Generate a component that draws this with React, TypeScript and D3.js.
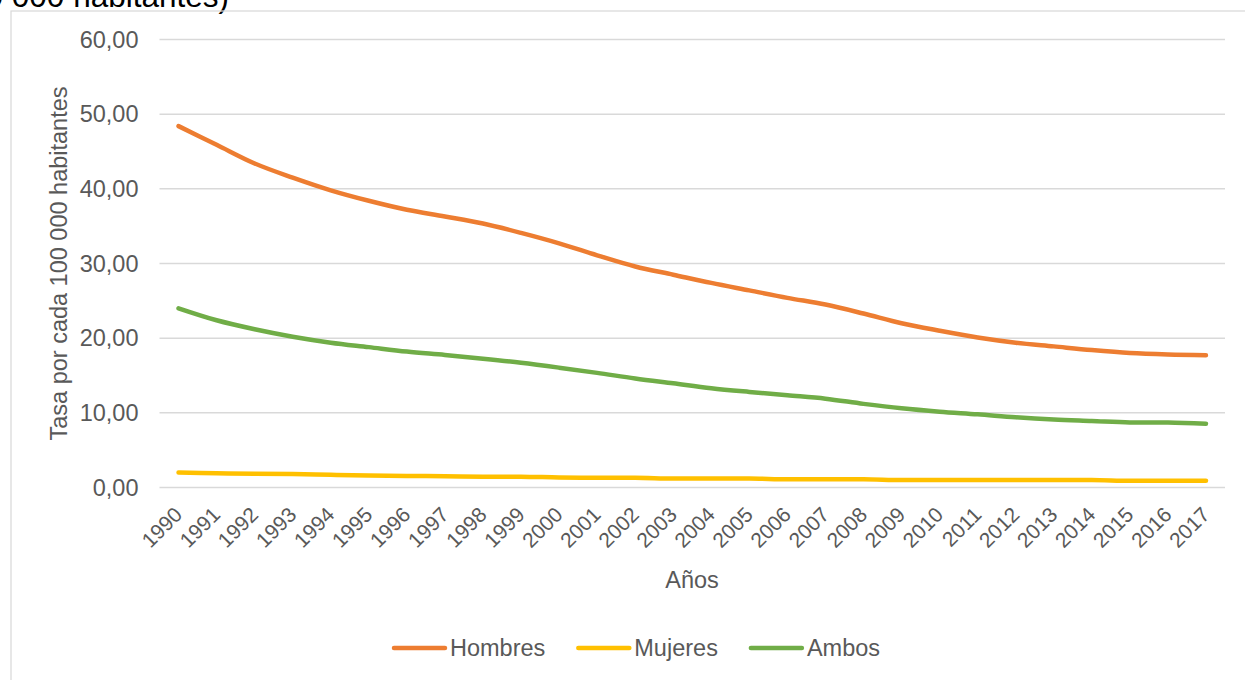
import React from "react";
import * as d3 from "d3";

// Annual rates per 100 000 inhabitants, 1990–2017
const years: string[] = [
  "1990", "1991", "1992", "1993", "1994", "1995", "1996", "1997", "1998", "1999",
  "2000", "2001", "2002", "2003", "2004", "2005", "2006", "2007", "2008", "2009",
  "2010", "2011", "2012", "2013", "2014", "2015", "2016", "2017",
];

const hombres: number[] = [
  48.4, 45.9, 43.4, 41.5, 39.8, 38.4, 37.2, 36.3, 35.35, 34.1,
  32.7, 31.1, 29.6, 28.5, 27.4, 26.4, 25.4, 24.5, 23.3, 22.0,
  21.0, 20.1, 19.4, 18.9, 18.4, 18.0, 17.8, 17.7,
];

const mujeres: number[] = [
  2.0, 1.9, 1.85, 1.8, 1.7, 1.6, 1.55, 1.5, 1.45, 1.45,
  1.35, 1.3, 1.3, 1.2, 1.2, 1.2, 1.1, 1.1, 1.1, 1.0,
  1.0, 1.0, 1.0, 1.0, 1.0, 0.9, 0.9, 0.92,
];

const ambos: number[] = [
  24.0, 22.4, 21.2, 20.2, 19.4, 18.8, 18.2, 17.75, 17.25, 16.7,
  16.05, 15.35, 14.6, 13.95, 13.3, 12.8, 12.35, 11.9, 11.2, 10.6,
  10.15, 9.8, 9.4, 9.1, 8.9, 8.7, 8.7, 8.55,
];

const yTicks: number[] = [0, 10, 20, 30, 40, 50, 60];

const seriesNames: string[] = ["Hombres", "Mujeres", "Ambos"];
const seriesColors: string[] = ["#ED7D31", "#FFC000", "#70AD47"];

const titleText = "(Tasa por cada 100 000 habitantes)";
const yTitle = "Tasa por cada 100 000 habitantes";
const xTitle = "Años";

const W = 1245;
const H = 680;
const FONT = "Arial, 'Liberation Sans', Helvetica, sans-serif";
const GRAY = "#595959";

function measure(text: string, size: number): number {
  const c = document.createElement("canvas").getContext("2d");
  if (!c) return text.length * size * 0.55;
  c.font = `${size}px ${FONT}`;
  return c.measureText(text).width;
}

export default function App() {
  const plot = { left: 159.5, right: 1225, top: 39.5, bottom: 487.5 };

  const x = d3.scaleBand<string>().domain(years).range([plot.left, plot.right]).padding(0);
  const y = d3.scaleLinear().domain([0, 60]).range([plot.bottom, plot.top]);
  const cx = (yr: string) => (x(yr) ?? 0) + x.bandwidth() / 2;

  const fmt = (v: number) => d3.format(".2f")(v).replace(".", ",");

  const line = d3
    .line<number>()
    .x((_, i) => cx(years[i]))
    .y((v) => y(v))
    .curve(d3.curveCatmullRom.alpha(0.5));

  const seriesData = [hombres, mujeres, ambos];

  // legend layout, centred under the chart
  const legendFont = 23.5;
  const swatch = 55;
  const textGap = 3;
  const itemGap = 31;
  const widths = seriesNames.map((n) => swatch + textGap + measure(n, legendFont));
  const total = d3.sum(widths) + itemGap * (seriesNames.length - 1);
  let lx = 636 - total / 2;
  const legendItems = seriesNames.map((n, i) => {
    const item = { name: n, color: seriesColors[i], x: lx };
    lx += widths[i] + itemGap;
    return item;
  });
  const legendY = 648;

  return (
    <svg
      width={W}
      height={H}
      style={{ position: "absolute", left: 0, top: 0, background: "#fff" }}
      fontFamily={FONT}
    >
      <rect x={0} y={0} width={W} height={H} fill="#fff" />
      {/* title, partly above the visible area */}
      <text x={229} y={7} fontSize={31.5} fill="#000" textAnchor="end">
        {titleText}
      </text>
      {/* chart frame */}
      <rect x={11} y={11} width={1260} height={700} fill="none" stroke="#D9D9D9" strokeWidth={1.25} />

      {/* gridlines and y tick labels */}
      {yTicks.map((t) => (
        <g key={t}>
          <line x1={plot.left} x2={plot.right} y1={y(t)} y2={y(t)} stroke="#D9D9D9" strokeWidth={1.5} />
          <text x={138.5} y={y(t)} dy="0.35em" fontSize={23.5} fill={GRAY} textAnchor="end">
            {fmt(t)}
          </text>
        </g>
      ))}

      {/* x tick labels */}
      {years.map((yr) => (
        <text
          key={yr}
          transform={`translate(${cx(yr) + 5},${516}) rotate(-45)`}
          fontSize={21}
          fill={GRAY}
          textAnchor="end"
        >
          {yr}
        </text>
      ))}

      {/* axis titles */}
      <text
        transform={`translate(66.5,${(plot.top + plot.bottom) / 2}) rotate(-90)`}
        fontSize={23.5}
        fill={GRAY}
        textAnchor="middle"
      >
        {yTitle}
      </text>
      <text x={692} y={588} fontSize={23.5} fill={GRAY} textAnchor="middle">
        {xTitle}
      </text>

      {/* series lines */}
      {seriesData.map((vals, i) => (
        <path
          key={seriesNames[i]}
          d={line(vals) ?? ""}
          fill="none"
          stroke={seriesColors[i]}
          strokeWidth={4.5}
          strokeLinecap="round"
          strokeLinejoin="round"
        />
      ))}

      {/* legend */}
      {legendItems.map((it) => (
        <g key={it.name}>
          <line
            x1={it.x + 2}
            x2={it.x + swatch - 2}
            y1={legendY}
            y2={legendY}
            stroke={it.color}
            strokeWidth={4.5}
            strokeLinecap="round"
          />
          <text x={it.x + swatch + textGap} y={legendY} dy="0.35em" fontSize={legendFont} fill={GRAY}>
            {it.name}
          </text>
        </g>
      ))}
    </svg>
  );
}
